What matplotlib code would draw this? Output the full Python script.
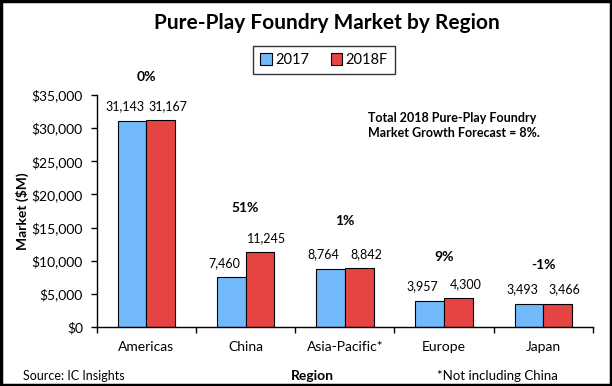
import numpy as np
import matplotlib.pyplot as plt
from matplotlib.patches import Patch, Rectangle

plt.rcParams['font.family'] = ['Lato', 'DejaVu Sans']

regions = ['Americas', 'China', 'Asia-Pacific*', 'Europe', 'Japan']
market_2017 = [31143, 7460, 8764, 3957, 3493]
market_2018 = [31167, 11245, 8842, 4300, 3466]
series = ['2017', '2018F']

blue = '#72B9FB'
red = '#E64343'

fig = plt.figure(figsize=(6.12, 3.86), dpi=100)
ax = fig.add_axes([0.158, 0.153, 0.811, 0.601])

x = np.arange(len(regions))
w = 0.29
b1 = ax.bar(x - w / 2, market_2017, w, color=blue, edgecolor='black', linewidth=0.8)
b2 = ax.bar(x + w / 2, market_2018, w, color=red, edgecolor='black', linewidth=0.8)

# value labels, nudged apart a little as in the original
for bars, vals, dx in ((b1, market_2017, -5), (b2, market_2018, 5)):
    for rect, v in zip(bars, vals):
        ax.annotate(f'{v:,}', (rect.get_x() + rect.get_width() / 2, v),
                    xytext=(dx, 10.5), textcoords='offset points',
                    ha='center', va='center', fontsize=9)

# growth labels above each group
pct_offset = [31, 32, 34, 30, 28]
for i, (a, b) in enumerate(zip(market_2017, market_2018)):
    g = round((b / a - 1) * 100)
    ax.annotate(f'{g}%', (x[i], max(a, b)), xytext=(0, pct_offset[i]),
                textcoords='offset points', ha='center', va='center',
                fontsize=10, fontweight='bold')

ax.set_ylim(0, 35000)
ax.set_yticks(np.arange(0, 35001, 5000))
ax.set_yticklabels([f'${v:,}' for v in range(0, 35001, 5000)], fontsize=10)
ax.set_xlim(-0.5, len(regions) - 0.5)
ax.set_xticks(np.arange(-0.5, len(regions), 1.0))
ax.set_xticklabels([])
ax.set_xticks(x, minor=True)
ax.set_xticklabels(regions, minor=True, fontsize=10)
ax.tick_params(axis='x', which='minor', length=0, pad=10)
ax.tick_params(axis='x', which='major', length=4, direction='out', width=1)
ax.tick_params(axis='y', length=4, direction='out', width=1, pad=6)
for s in ('top', 'right'):
    ax.spines[s].set_visible(False)
for s in ('left', 'bottom'):
    ax.spines[s].set_linewidth(1)

ax.set_ylabel('Market ($M)', fontsize=10, fontweight='bold', labelpad=2)
fig.text(312 / 612, 1 - 376 / 386, 'Region', ha='center', va='center',
         fontsize=10, fontweight='bold')
fig.text(23 / 612, 1 - 376 / 386, 'Source: IC Insights', ha='left', va='center', fontsize=9)
fig.text(437 / 612, 1 - 376 / 386, '*Not including China', ha='left', va='center', fontsize=9.5)

fig.text(327 / 612, 1 - 23 / 386, 'Pure-Play Foundry Market by Region',
         ha='center', va='center', fontsize=15, fontweight='bold')
fig.text(368 / 612, 1 - 125.5 / 386,
         'Total 2018 Pure-Play Foundry\nMarket Growth Forecast = 8%.',
         ha='left', va='center', fontsize=9, fontweight='bold', linespacing=1.25)

handles = [Patch(facecolor=blue, edgecolor='black', linewidth=0.8),
           Patch(facecolor=red, edgecolor='black', linewidth=0.8)]
leg = fig.legend(handles, series, loc='center', bbox_to_anchor=(324 / 612, 1 - 60 / 386),
                 ncol=2, fontsize=10.5, frameon=True, fancybox=False,
                 handlelength=0.8, handleheight=0.8, handletextpad=0.2,
                 columnspacing=1.5, borderpad=0.5)
leg.get_frame().set_edgecolor('black')
leg.get_frame().set_linewidth(1)

fig.patches.append(Rectangle((0.002, 0.003), 0.996, 0.994, transform=fig.transFigure,
                             fill=False, edgecolor='black', linewidth=2.5))

fig.savefig('out.png', dpi=100)
